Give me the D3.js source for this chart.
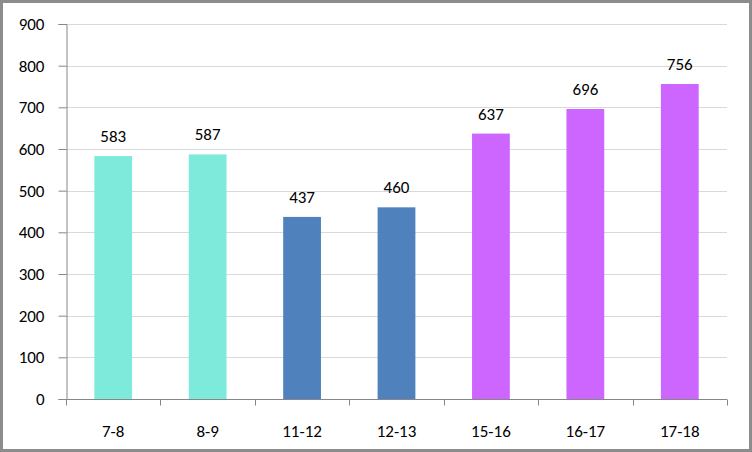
<!DOCTYPE html>
<html>
<head>
<meta charset="utf-8">
<script src="https://cdn.jsdelivr.net/npm/d3@7"></script>
<style>
  body { margin: 0; background: #fff; }
  svg text { font-family: Carlito, Calibri, Lato, "Open Sans", sans-serif; fill: #000; }
</style>
</head>
<body>
<div id="chart"></div>
<script>
// data
const categories = ["7-8", "8-9", "11-12", "12-13", "15-16", "16-17", "17-18"]
const values = [583, 587, 437, 460, 637, 696, 756]
const barColors = ["#7eeadb", "#7eeadb", "#4f81bd", "#4f81bd", "#cc66ff", "#cc66ff", "#cc66ff"]
const yTicks = [0, 100, 200, 300, 400, 500, 600, 700, 800, 900]

const width = 752, height = 452
const margin = {top: 24, right: 25, bottom: 53, left: 66}

const svg = d3.select("#chart").append("svg")
    .attr("width", width)
    .attr("height", height)

// outer frame
svg.append("rect")
    .attr("x", 1.5).attr("y", 1.5)
    .attr("width", width - 3).attr("height", height - 3)
    .attr("fill", "#fff")
    .attr("stroke", "#8c8c8c")
    .attr("stroke-width", 3)

const x = d3.scaleBand()
    .domain(categories)
    .range([margin.left, width - margin.right])
    .paddingInner(0.6)
    .paddingOuter(0.3)

const y = d3.scaleLinear()
    .domain([0, 900])
    .range([height - margin.bottom, margin.top])

// gridlines
svg.append("g")
    .selectAll("line")
    .data(yTicks.slice(1))
    .enter().append("line")
    .attr("x1", margin.left)
    .attr("x2", width - margin.right)
    .attr("y1", d => Math.round(y(d)) + 0.5)
    .attr("y2", d => Math.round(y(d)) + 0.5)
    .attr("stroke", "#d9d9d9")

// bars
svg.append("g")
    .selectAll("rect")
    .data(values)
    .enter().append("rect")
    .attr("x", (d, i) => x(categories[i]))
    .attr("y", d => y(d))
    .attr("width", x.bandwidth())
    .attr("height", d => y(0) - y(d))
    .attr("fill", (d, i) => barColors[i])

// value labels
svg.append("g")
    .selectAll("text")
    .data(values)
    .enter().append("text")
    .attr("x", (d, i) => x(categories[i]) + x.bandwidth() / 2)
    .attr("y", d => y(d) - 14)
    .attr("text-anchor", "middle")
    .style("font-size", "17px")
    .text(d => d)

// y axis
const yAxis = svg.append("g")
    .attr("transform", `translate(${margin.left + 0.5},0)`)
    .call(d3.axisLeft(y).tickValues(yTicks).tickSize(8).tickPadding(14))
yAxis.select(".domain").attr("stroke", "#868686")
yAxis.selectAll(".tick line").attr("stroke", "#868686")
yAxis.selectAll(".tick text").style("font-size", "17px")

// x axis, ticks at category boundaries
const plotRight = width - margin.right
const step = (plotRight - margin.left) / categories.length
const xAxis = svg.append("g")
    .attr("transform", `translate(0,${Math.round(y(0)) + 0.5})`)
xAxis.append("line")
    .attr("x1", margin.left).attr("x2", plotRight)
    .attr("stroke", "#868686")
xAxis.selectAll(".sep")
    .data(d3.range(categories.length + 1))
    .enter().append("line")
    .attr("class", "sep")
    .attr("x1", i => Math.round(margin.left + i * step) + 0.5)
    .attr("x2", i => Math.round(margin.left + i * step) + 0.5)
    .attr("y1", 0).attr("y2", 6)
    .attr("stroke", "#868686")
xAxis.selectAll(".lbl")
    .data(categories)
    .enter().append("text")
    .attr("class", "lbl")
    .attr("x", d => x(d) + x.bandwidth() / 2)
    .attr("y", 37)
    .attr("text-anchor", "middle")
    .style("font-size", "17px")
    .text(d => d)
</script>
</body>
</html>
